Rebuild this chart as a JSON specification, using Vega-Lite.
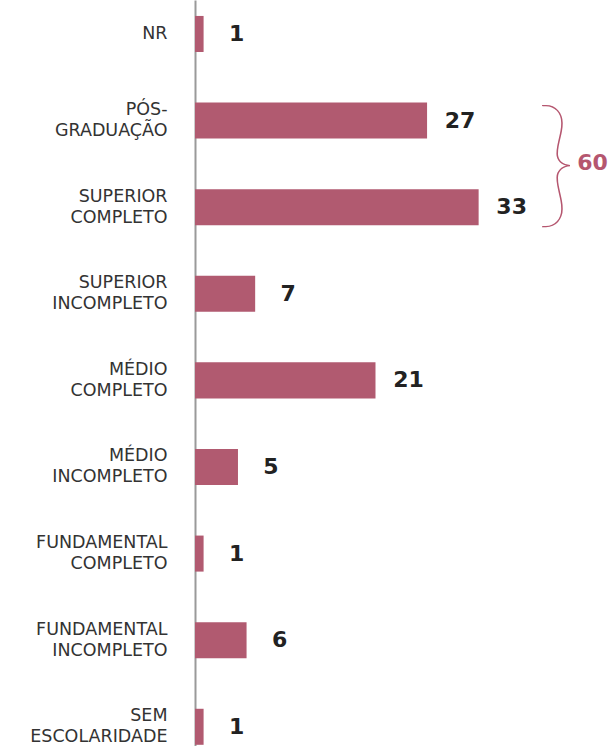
{
  "$schema": "https://vega.github.io/schema/vega-lite/v6.json",
  "width": 416,
  "height": 746,
  "autosize": {"type": "none"},
  "padding": {"left": 195, "top": 0, "right": 0, "bottom": 0},
  "background": "white",
  "config": {"view": {"stroke": null}},
  "datasets": {
    "edu": [
      {"cat": "NR", "n": 1},
      {"cat": "PÓS-|GRADUAÇÃO", "n": 27},
      {"cat": "SUPERIOR|COMPLETO", "n": 33},
      {"cat": "SUPERIOR|INCOMPLETO", "n": 7},
      {"cat": "MÉDIO|COMPLETO", "n": 21},
      {"cat": "MÉDIO|INCOMPLETO", "n": 5},
      {"cat": "FUNDAMENTAL|COMPLETO", "n": 1},
      {"cat": "FUNDAMENTAL|INCOMPLETO", "n": 6},
      {"cat": "SEM|ESCOLARIDADE", "n": 1}
    ],
    "note": [
      {"cat": "PÓS-|GRADUAÇÃO", "label": "60"}
    ]
  },
  "layer": [
    {
      "data": {"name": "edu"},
      "mark": {"type": "bar", "color": "#b15a70"},
      "encoding": {
        "y": {
          "field": "cat",
          "type": "nominal",
          "sort": null,
          "scale": {"paddingInner": 0.584, "paddingOuter": 0.099, "align": 0.93},
          "axis": {
            "title": null,
            "ticks": false,
            "grid": false,
            "domainColor": "#9a9a9a",
            "domainWidth": 2,
            "labelFont": "DejaVu Sans",
            "labelFontSize": 17.5,
            "labelColor": "#333333",
            "labelPadding": 28,
            "labelLineHeight": 21,
            "labelLimit": 400,
            "labelOffset": {"condition": {"test": "datum.value == 'NR'", "value": 0}, "value": -10.5},
            "labelExpr": "split(datum.label, '|')"
          }
        },
        "x": {
          "field": "n",
          "type": "quantitative",
          "scale": {"domain": [0, 48.4], "nice": false},
          "axis": null
        }
      }
    },
    {
      "data": {"name": "edu"},
      "mark": {"type": "text", "font": "DejaVu Sans", "fontWeight": "bold", "fontSize": 22, "color": "#222222", "dx": 33, "align": "center", "baseline": "middle"},
      "encoding": {
        "y": {"field": "cat", "type": "nominal", "sort": null},
        "x": {"field": "n", "type": "quantitative"},
        "text": {"field": "n", "type": "quantitative"}
      }
    },
    {
      "data": {"name": "note"},
      "mark": {"type": "text", "text": "}", "font": "Lato", "fontWeight": 100, "fontSize": 140, "color": "#b5566f", "dy": 47, "align": "center", "baseline": "middle"},
      "encoding": {
        "x": {"datum": 42.05, "type": "quantitative"},
        "y": {"field": "cat", "type": "nominal", "sort": null}
      }
    },
    {
      "data": {"name": "note"},
      "mark": {"type": "text", "font": "DejaVu Sans", "fontWeight": "bold", "fontSize": 22, "color": "#b5566f", "dy": 42, "align": "center", "baseline": "middle"},
      "encoding": {
        "x": {"datum": 46.25, "type": "quantitative"},
        "y": {"field": "cat", "type": "nominal", "sort": null},
        "text": {"field": "label"}
      }
    }
  ]
}
